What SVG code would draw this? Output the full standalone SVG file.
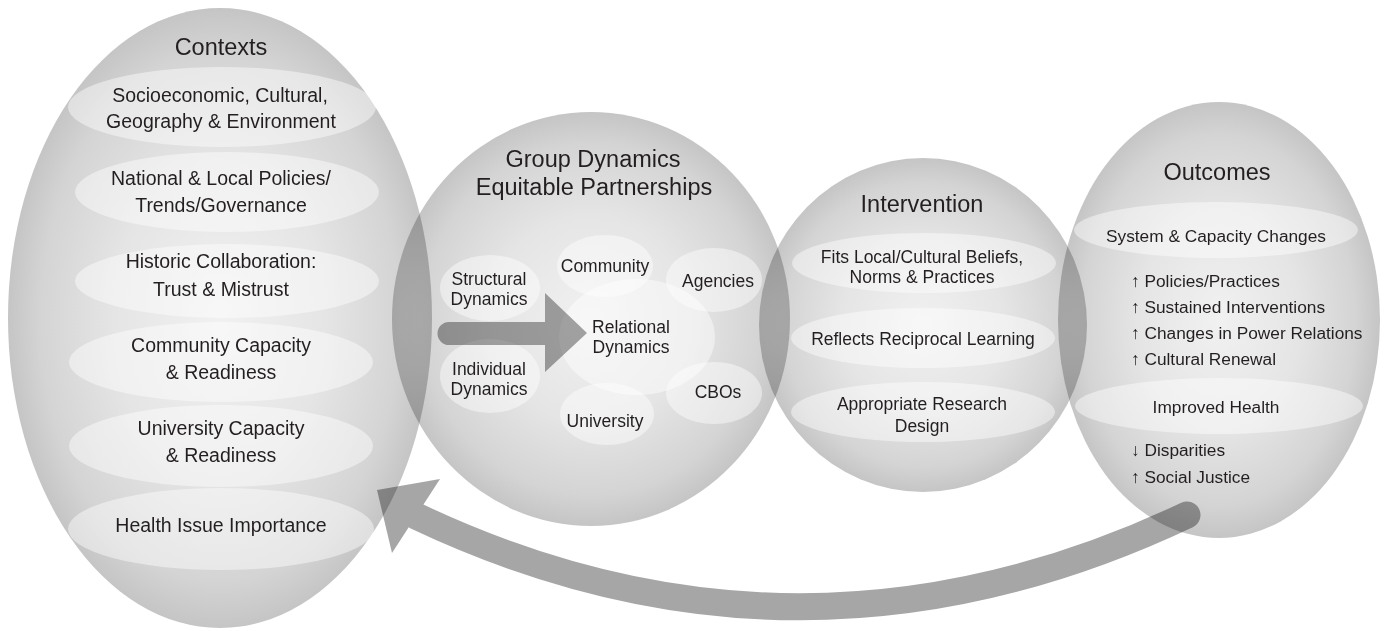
<svg xmlns="http://www.w3.org/2000/svg" width="1385" height="631" viewBox="0 0 1385 631">
<defs>
<radialGradient id="gBig" cx="0.5" cy="0.5" r="0.5">
<stop offset="0" stop-color="#f1f1f1"/>
<stop offset="0.5" stop-color="#e5e5e5"/>
<stop offset="0.85" stop-color="#d4d4d4"/>
<stop offset="1" stop-color="#c5c5c5"/>
</radialGradient>
<style>
.big { fill: url(#gBig); mix-blend-mode: multiply; }
.in { fill: #ffffff; fill-opacity: 0.45; }
text { font-family: "Liberation Sans", Arial, sans-serif; fill: #231f20; text-anchor: middle; }
.t { font-size: 23.5px; }
.c { font-size: 19.5px; }
.s { font-size: 17.5px; }
.o { font-size: 17.3px; text-anchor: start; }
.arr { mix-blend-mode: multiply; }
.arr .f { fill: #a6a6a6; }
.arr .k { fill: none; stroke: #a6a6a6; stroke-width: 27; stroke-linecap: round; }
</style>
</defs>
<rect width="1385" height="631" fill="#ffffff"/>

<g id="contexts">
<ellipse class="big" cx="220" cy="318" rx="212" ry="310"/>
<ellipse class="in" cx="222" cy="107" rx="154" ry="40"/>
<ellipse class="in" cx="227" cy="192" rx="152" ry="40"/>
<ellipse class="in" cx="227" cy="281" rx="152" ry="37"/>
<ellipse class="in" cx="221" cy="362" rx="152" ry="40"/>
<ellipse class="in" cx="221" cy="446" rx="152" ry="41"/>
<ellipse class="in" cx="221" cy="529" rx="153" ry="41"/>
<text class="t" x="221" y="55">Contexts</text>
<text class="c" x="220" y="102">Socioeconomic, Cultural,</text>
<text class="c" x="221" y="128">Geography &amp; Environment</text>
<text class="c" x="221" y="185">National &amp; Local Policies/</text>
<text class="c" x="221" y="212">Trends/Governance</text>
<text class="c" x="221" y="268">Historic Collaboration:</text>
<text class="c" x="221" y="296">Trust &amp; Mistrust</text>
<text class="c" x="221" y="352">Community Capacity</text>
<text class="c" x="221" y="379">&amp; Readiness</text>
<text class="c" x="221" y="435">University Capacity</text>
<text class="c" x="221" y="462">&amp; Readiness</text>
<text class="c" x="221" y="532">Health Issue Importance</text>
</g>

<g id="group-dynamics">
<ellipse class="big" cx="591" cy="319" rx="199" ry="207"/>
<ellipse class="in" cx="490" cy="288" rx="50" ry="33"/>
<ellipse class="in" cx="490" cy="376" rx="50" ry="37"/>
<ellipse class="in" cx="605" cy="266" rx="48" ry="31"/>
<ellipse class="in" cx="714" cy="280" rx="48" ry="32"/>
<ellipse class="in" cx="714" cy="393" rx="48" ry="31"/>
<ellipse class="in" cx="607" cy="414" rx="47" ry="31"/>
<ellipse class="in" cx="637" cy="337" rx="78" ry="58"/>
<text class="t" x="593" y="167">Group Dynamics</text>
<text class="t" x="594" y="195">Equitable Partnerships</text>
<text class="s" x="489" y="285">Structural</text>
<text class="s" x="489" y="305">Dynamics</text>
<text class="s" x="489" y="375">Individual</text>
<text class="s" x="489" y="395">Dynamics</text>
<text class="s" x="605" y="272">Community</text>
<text class="s" x="718" y="287">Agencies</text>
<text class="s" x="631" y="333">Relational</text>
<text class="s" x="631" y="353">Dynamics</text>
<text class="s" x="718" y="398">CBOs</text>
<text class="s" x="605" y="427">University</text>
</g>

<g id="intervention">
<ellipse class="big" cx="923" cy="325" rx="164" ry="167"/>
<ellipse class="in" cx="924" cy="263" rx="132" ry="30"/>
<ellipse class="in" cx="923" cy="338" rx="132" ry="30"/>
<ellipse class="in" cx="923" cy="412" rx="132" ry="30"/>
<text class="t" x="922" y="212">Intervention</text>
<text class="s" x="922" y="263">Fits Local/Cultural Beliefs,</text>
<text class="s" x="922" y="283">Norms &amp; Practices</text>
<text class="s" x="923" y="345">Reflects Reciprocal Learning</text>
<text class="s" x="922" y="410">Appropriate Research</text>
<text class="s" x="922" y="432">Design</text>
</g>

<g id="outcomes">
<ellipse class="big" cx="1219" cy="320" rx="161" ry="218"/>
<ellipse class="in" cx="1216" cy="230" rx="142" ry="28"/>
<ellipse class="in" cx="1219" cy="406" rx="144" ry="28"/>
<text class="t" x="1217" y="180">Outcomes</text>
<text class="s" x="1216" y="242" style="font-size:17.3px">System &amp; Capacity Changes</text>
<text class="o" x="1131" y="287">↑ Policies/Practices</text>
<text class="o" x="1131" y="313">↑ Sustained Interventions</text>
<text class="o" x="1131" y="339">↑ Changes in Power Relations</text>
<text class="o" x="1131" y="365">↑ Cultural Renewal</text>
<text class="s" x="1216" y="413" style="font-size:17.3px">Improved Health</text>
<text class="o" x="1131" y="456">↓ Disparities</text>
<text class="o" x="1131" y="483">↑ Social Justice</text>
</g>

<g id="connectors">
<g class="arr">
<path class="f" d="M449,322 L545,322 L545,293 L587,333 L545,372 L545,345 L449,345 A11.5,11.5 0 0 1 449,322 Z"/>
</g>
<g class="arr">
<path class="k" d="M1187,515 Q800,698 416,516"/>
<polygon class="f" points="377,490 440,479 392,553"/>
</g>
</g>
</svg>
